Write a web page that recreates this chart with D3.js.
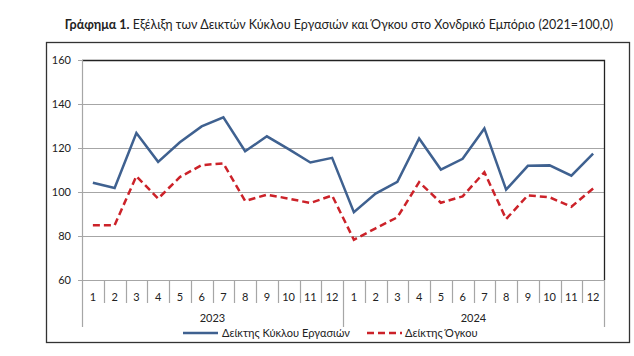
<!DOCTYPE html>
<html><head><meta charset="utf-8">
<script src="https://cdn.jsdelivr.net/npm/d3@7"></script>
<style>body{margin:0;background:#fff}svg{display:block}text{font-family:Lato,"Open Sans",sans-serif;fill:#222}</style>
</head><body><svg id="c" width="634" height="356"></svg>
<script>
const months = ["1","2","3","4","5","6","7","8","9","10","11","12"];
const years = ["2023","2024"];
const turnover = [104.2,101.8,126.8,113.7,122.6,129.8,133.9,118.5,125.3,119.5,113.4,115.5,
                  90.8,99.3,104.6,124.3,110.2,115.1,128.9,101.1,111.9,112.1,107.4,117.4];
const volume = [84.9,84.9,107.2,97.0,106.8,112.2,113.0,95.9,98.8,97.0,95.0,98.4,
                78.3,83.5,88.5,104.5,95.1,98.0,109.0,87.7,98.5,97.6,93.3,101.6];
const yTicks = [60,80,100,120,140,160];
const seriesNames = ["Δείκτης Κύκλου Εργασιών","Δείκτης Όγκου"];

const svg = d3.select("#c");
const L=82, R=604, T=60, B=280;
const cats = d3.range(24);
const x = d3.scaleBand().domain(cats).range([L,R]);
const y = d3.scaleLinear().domain([60,160]).range([B,T]);

// title
const title = svg.append("text").attr("x",339).attr("y",29).attr("text-anchor","middle").style("font-size","12.5px");
title.append("tspan").style("font-weight","bold").text("Γράφημα 1.");
title.append("tspan").text(" Εξέλιξη των Δεικτών Κύκλου Εργασιών και Όγκου στο Χονδρικό Εμπόριο (2021=100,0)");

// outer frame
svg.append("rect").attr("x",46.5).attr("y",42.5).attr("width",583).attr("height",300)
  .attr("fill","none").attr("stroke","#333").attr("stroke-width",1.3);

// gridlines
svg.append("g").selectAll("line").data(yTicks).join("line")
  .attr("x1",L-4).attr("x2",R).attr("y1",d=>Math.round(y(d))+0.5).attr("y2",d=>Math.round(y(d))+0.5)
  .attr("stroke","#a6a6a6").attr("stroke-width",1.2);
svg.append("g").selectAll("text").data(yTicks).join("text")
  .attr("x",L-11).attr("y",d=>y(d)+4).attr("text-anchor","end").style("font-size","11px").text(d=>d);

// plot border top/right
svg.append("path").attr("d",`M${L},${T+0.5}H${R+0.5}V${B}`).attr("fill","none").attr("stroke","#222").attr("stroke-width",1.3);
// left axis
svg.append("line").attr("x1",L+0.5).attr("x2",L+0.5).attr("y1",T).attr("y2",327).attr("stroke","#a6a6a6").attr("stroke-width",1.2);
// category separators
svg.append("g").selectAll("line").data(d3.range(1,25)).join("line")
  .attr("x1",i=>Math.round(L+i*x.step())+0.5).attr("x2",i=>Math.round(L+i*x.step())+0.5)
  .attr("y1",B).attr("y2",i=>(i%12===0)?327:303).attr("stroke","#a6a6a6").attr("stroke-width",1.2);
// month labels
svg.append("g").selectAll("text").data(cats).join("text")
  .attr("x",i=>x(i)+x.bandwidth()/2).attr("y",301).attr("text-anchor","middle").style("font-size","11px")
  .text(i=>months[i%12]);
// year labels
svg.append("g").selectAll("text").data(years).join("text")
  .attr("x",(d,i)=>x(i*12)+x.step()*6).attr("y",322).attr("text-anchor","middle").style("font-size","11px").text(d=>d);

// lines
const line = d3.line().x((d,i)=>x(i)+x.bandwidth()/2).y(d=>y(d));
svg.append("path").datum(turnover).attr("d",line).attr("fill","none").attr("stroke","#3f6190").attr("stroke-width",2.5).attr("stroke-linejoin","miter");
svg.append("path").datum(volume).attr("d",line).attr("fill","none").attr("stroke","#cc2229").attr("stroke-width",2.5).attr("stroke-dasharray","7,4");

// legend
const lg = [{x1:183,x2:218,tx:222,c:"#3f6190",dash:null},{x1:367,x2:402,tx:405,c:"#cc2229",dash:"7,4"}];
lg.forEach((g,i)=>{
  svg.append("line").attr("x1",g.x1).attr("x2",g.x2).attr("y1",333).attr("y2",333).attr("stroke",g.c).attr("stroke-width",2.5).attr("stroke-dasharray",g.dash);
  svg.append("text").attr("x",g.tx).attr("y",337).style("font-size","11px").text(seriesNames[i]);
});
</script></body></html>
